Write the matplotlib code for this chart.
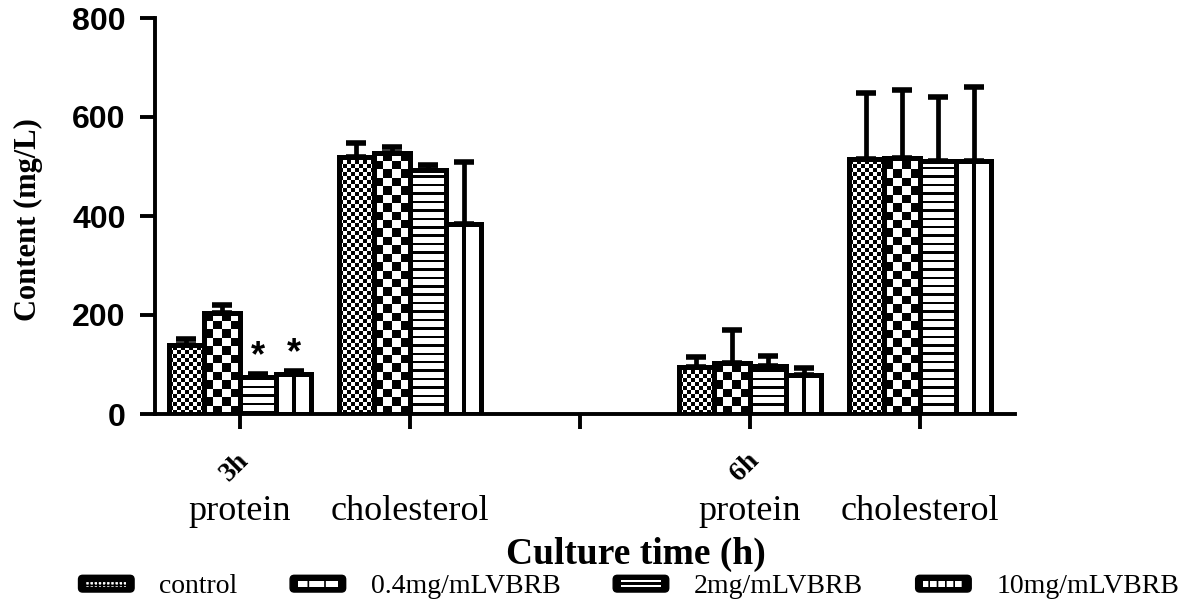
import numpy as np
import matplotlib
matplotlib.use("Agg")
import matplotlib.pyplot as plt
from matplotlib.legend_handler import HandlerBase
from matplotlib.patches import FancyBboxPatch, Rectangle, Patch

# data (mg/L)
categories = ["protein", "cholesterol", "", "protein", "cholesterol"]
time_labels = ["3h", "6h"]
time_pos = [0, 3]
series = ["control", "0.4mg/mLVBRB", "2mg/mLVBRB", "10mg/mLVBRB"]
values = {
    "control":      [140, 520, np.nan, 95, 515],
    "0.4mg/mLVBRB": [205, 528, np.nan, 103, 518],
    "2mg/mLVBRB":   [75, 492, np.nan, 96, 512],
    "10mg/mLVBRB":  [80, 383, np.nan, 78, 512],
}
errors = {
    "control":      [12, 28, np.nan, 20, 133],
    "0.4mg/mLVBRB": [15, 12, np.nan, 67, 137],
    "2mg/mLVBRB":   [5, 12, np.nan, 22, 128],
    "10mg/mLVBRB":  [6, 127, np.nan, 14, 148],
}
# significance marks (series, category index)
stars = [("2mg/mLVBRB", 0), ("10mg/mLVBRB", 0)]

serif = ["Liberation Serif", "DejaVu Serif"]
sans = ["Liberation Sans", "DejaVu Sans"]


def pattern(kind, w, h):
    # w in data-x units, h in data-y units; returns 0/1 array (1 = black)
    nx, ny = 60, max(int(h / 1.0), 2)
    xs = (np.arange(nx) + 0.5) / nx          # fraction of bar width
    ys = (np.arange(ny) + 0.5) / ny * h      # data units
    X, Y = np.meshgrid(xs, ys)
    if kind == 0:      # fine checker
        return ((np.floor(X * 9) + np.floor(Y / 8)) % 2).astype(float)
    if kind == 1:      # coarse checker
        return ((np.floor(X * 4) + np.floor(Y / 17)) % 2).astype(float)
    if kind == 2:      # horizontal lines
        return ((Y % 17) < 5).astype(float)
    # single vertical line in the middle
    return (np.abs(X - 0.5) < 0.05).astype(float)


fig = plt.figure(figsize=(12, 6.08), dpi=100)
ax = fig.add_axes([155 / 1200, 1 - 414 / 608, 860 / 1200, 396 / 608])

x = np.arange(len(categories))
width = 0.21
offsets = (np.arange(len(series)) - 1.5) * width

for k, name in enumerate(series):
    vals = np.array(values[name], dtype=float)
    errs = np.array(errors[name], dtype=float)
    ok = ~np.isnan(vals)
    bars = ax.bar(x[ok] + offsets[k], vals[ok], width, facecolor="none",
                  edgecolor="black", linewidth=3.6, zorder=3)
    for b in bars:
        img = pattern(k, b.get_width(), b.get_height())
        im = ax.imshow(img, cmap="gray_r", vmin=0, vmax=1, interpolation="nearest",
                       origin="lower", aspect="auto", zorder=2,
                       extent=[b.get_x(), b.get_x() + b.get_width(), 0, b.get_height()])
        im.set_clip_path(b)
    ax.errorbar(x[ok] + offsets[k], vals[ok], yerr=[np.zeros(ok.sum()), errs[ok]],
                fmt="none", ecolor="black", elinewidth=3.4, capsize=7.5, capthick=4,
                zorder=2.5)

for name, ci in stars:
    k = series.index(name)
    top = values[name][ci] + errors[name][ci]
    ax.annotate("*", xy=(x[ci] + offsets[k], top), xytext=(0, 0),
                textcoords="offset points", ha="center", va="bottom",
                fontsize=26, fontweight="bold", family=sans)

ax.set_xlim(-0.5, 860 / 170 - 0.5)
ax.set_ylim(0, 800)
ax.set_yticks([0, 200, 400, 600, 800])
ax.set_xticks(x)
ax.set_xticklabels(categories, family=serif, fontsize=26)
for lab in ax.get_yticklabels():
    lab.set_family(sans)
    lab.set_fontweight("bold")
    lab.set_fontsize(23)
ax.tick_params(axis="y", length=11, width=2.8, pad=10)
ax.tick_params(axis="x", length=11, width=2.8, pad=47)
for side in ["top", "right"]:
    ax.spines[side].set_visible(False)
for side in ["left", "bottom"]:
    ax.spines[side].set_linewidth(2.8)

for lab, pos in zip(time_labels, time_pos):
    ax.text(pos - 0.03, -0.135, lab, transform=ax.get_xaxis_transform(),
            rotation=45, ha="center", va="center", fontsize=20,
            fontweight="bold", family=serif)

ax.set_ylabel("Content (mg/L)", family=serif, fontweight="bold", fontsize=22)
ax.yaxis.set_label_coords(-0.13, 0.49)
ax.set_xlabel("Culture time (h)", family=serif, fontweight="bold", fontsize=27)
ax.xaxis.set_label_coords(0.559, -0.31)


class BoxHandler(HandlerBase):
    def create_artists(self, legend, orig_handle, xdescent, ydescent,
                       width, height, fontsize, trans):
        kind = orig_handle.kind
        box = FancyBboxPatch((-xdescent, -ydescent), width, height,
                             boxstyle="round,pad=0,rounding_size=3",
                             fc="black", ec="black", lw=1, transform=trans)
        arts = [box]
        x0, w = -xdescent + width * 0.14, width * 0.72
        if kind == 2:
            for f in (0.32, 0.58):
                arts.append(Rectangle((x0, -ydescent + height * f), w, height * 0.12,
                                      fc="white", ec="none", transform=trans))
        else:
            hatch = {0: "++++", 1: "|", 3: "||"}[kind]
            arts.append(Rectangle((x0, -ydescent + height * 0.32), w, height * 0.36,
                                  fc="white", ec="black", lw=0, hatch=hatch,
                                  transform=trans))
        return arts


handles = []
for k, name in enumerate(series):
    h = Patch(facecolor="black", label=name)
    h.kind = k
    handles.append(h)

plt.rcParams["hatch.linewidth"] = 1.2
fig.legend(handles=handles, loc="lower center", bbox_to_anchor=(0.524, -0.018),
           ncol=4, frameon=False, handler_map={Patch: BoxHandler()},
           prop={"family": serif, "size": 20}, handlelength=2.0,
           handleheight=0.55, handletextpad=0.9, columnspacing=1.9,
           borderaxespad=0.3)

fig.savefig("out.png", dpi=100)
